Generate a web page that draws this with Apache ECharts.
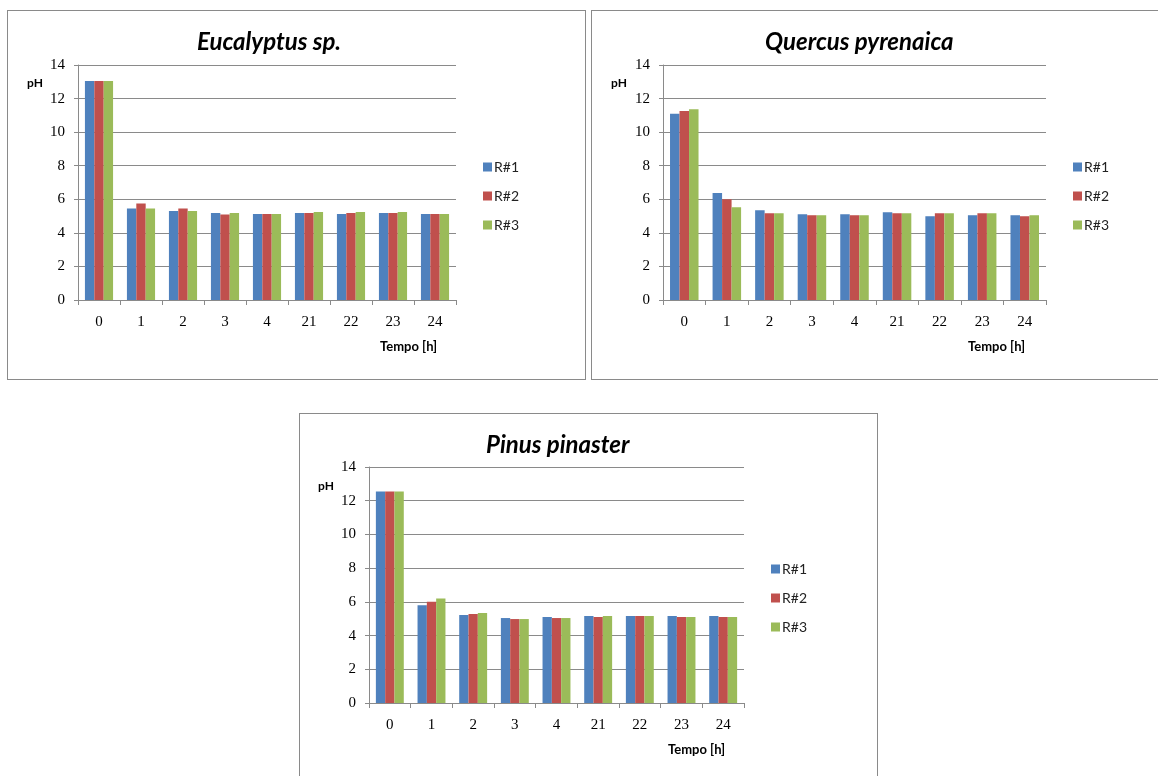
<!DOCTYPE html>
<html>
<head>
<meta charset="utf-8">
<script src="https://cdn.jsdelivr.net/npm/echarts@6/dist/echarts.min.js"></script>
<style>
  html, body { margin: 0; padding: 0; background: #ffffff; }
  body { width: 1158px; height: 776px; position: relative; overflow: hidden; }
  .frame { position: absolute; border: 1px solid #8a8a8a; background: #fff; }
  #c1 { left: 7px; top: 10px; width: 577px; height: 368px; }
  #c2 { left: 591px; top: 10px; width: 566px; height: 368px; }
  #c3 { left: 299px; top: 413px; width: 577px; height: 372px; }
</style>
</head>
<body>
<div id="c1" class="frame"></div>
<div id="c2" class="frame"></div>
<div id="c3" class="frame"></div>
<script>
// ---- data ----
const categories = ['0', '1', '2', '3', '4', '21', '22', '23', '24'];
const seriesNames = ['R#1', 'R#2', 'R#3'];
const yTicks = [0, 2, 4, 6, 8, 10, 12, 14];

const eucalyptusR1 = [13.05, 5.45, 5.3, 5.18, 5.12, 5.18, 5.12, 5.18, 5.12];
const eucalyptusR2 = [13.05, 5.75, 5.45, 5.1, 5.12, 5.18, 5.18, 5.18, 5.12];
const eucalyptusR3 = [13.05, 5.45, 5.3, 5.18, 5.12, 5.24, 5.24, 5.24, 5.12];

const quercusR1 = [11.1, 6.38, 5.35, 5.11, 5.11, 5.23, 4.99, 5.05, 5.05];
const quercusR2 = [11.26, 6.0, 5.17, 5.05, 5.05, 5.17, 5.17, 5.17, 4.99];
const quercusR3 = [11.36, 5.53, 5.17, 5.05, 5.05, 5.17, 5.17, 5.17, 5.05];

const pinusR1 = [12.55, 5.8, 5.22, 5.04, 5.1, 5.16, 5.16, 5.16, 5.16];
const pinusR2 = [12.55, 6.0, 5.28, 4.98, 5.04, 5.1, 5.16, 5.1, 5.1];
const pinusR3 = [12.55, 6.2, 5.34, 4.98, 5.04, 5.16, 5.16, 5.1, 5.1];

const colors = ['#4F81BD', '#C0504D', '#9BBB59'];

function buildOption(cfg) {
  const data = cfg.data;
  return {
    animation: false,
    backgroundColor: '#ffffff',
    color: colors,
    title: {
      text: cfg.title,
      left: cfg.titleLeft,
      top: 14,
      textStyle: {
        fontFamily: 'Lato',
        fontStyle: 'italic',
        fontWeight: 'bold',
        fontSize: 24,
        color: '#000'
      }
    },
    legend: {
      data: seriesNames,
      orient: 'vertical',
      left: cfg.legendLeft,
      top: cfg.legendTop,
      itemWidth: 9,
      itemHeight: 9,
      itemGap: 15,
      icon: 'rect',
      textStyle: { fontFamily: 'Lato', fontSize: 14, color: '#222', padding: [0, 0, 0, -3] }
    },
    grid: {
      left: cfg.grid[0],
      top: cfg.grid[1],
      width: cfg.grid[2],
      height: cfg.grid[3]
    },
    xAxis: {
      type: 'category',
      data: categories,
      axisLine: { lineStyle: { color: '#8a8a8a', width: 1 } },
      axisTick: { show: true, length: 5, alignWithLabel: false, lineStyle: { color: '#8a8a8a' } },
      axisLabel: { fontFamily: 'Liberation Serif', fontSize: 15, color: '#000', margin: 15 },
      splitLine: { show: false }
    },
    yAxis: {
      type: 'value',
      min: yTicks[0],
      max: yTicks[yTicks.length - 1],
      interval: yTicks[1] - yTicks[0],
      axisLine: { show: true, lineStyle: { color: '#8a8a8a', width: 1 } },
      axisTick: { show: true, length: 4, lineStyle: { color: '#8a8a8a' } },
      axisLabel: { fontFamily: 'Liberation Serif', fontSize: 15, color: '#000', margin: 13 },
      splitLine: { show: true, lineStyle: { color: '#8a8a8a', width: 1 } }
    },
    graphic: [
      { type: 'text', left: cfg.phLeft, top: cfg.phTop,
        style: { text: 'pH', font: 'bold 12px Lato', fill: '#000' } },
      { type: 'text', left: cfg.tempoLeft, top: cfg.tempoTop,
        style: { text: 'Tempo [h]', font: 'bold 13px Lato', fill: '#000' } }
    ],
    series: seriesNames.map((n, i) => ({
      name: n,
      type: 'bar',
      data: data[i],
      barGap: '0%',
      barCategoryGap: '33%',
      itemStyle: { color: colors[i] }
    }))
  };
}

const charts = [
  { el: 'c1', title: 'Eucalyptus sp.', data: [eucalyptusR1, eucalyptusR2, eucalyptusR3],
    titleLeft: 184, grid: [70, 54, 378, 235], legendLeft: 470, legendTop: 144,
    phLeft: 19, phTop: 66, tempoLeft: 372, tempoTop: 329 },
  { el: 'c2', title: 'Quercus pyrenaica', data: [quercusR1, quercusR2, quercusR3],
    titleLeft: 168, grid: [71, 54, 383, 235], legendLeft: 476, legendTop: 144,
    phLeft: 19, phTop: 66, tempoLeft: 376, tempoTop: 329 },
  { el: 'c3', title: 'Pinus pinaster', data: [pinusR1, pinusR2, pinusR3],
    titleLeft: 181, grid: [69, 53, 375, 236], legendLeft: 466, legendTop: 143,
    phLeft: 18, phTop: 66, tempoLeft: 368, tempoTop: 329 }
];

charts.forEach(c => {
  const inst = echarts.init(document.getElementById(c.el), null, { renderer: 'canvas' });
  inst.setOption(buildOption(c));
});
</script>
</body>
</html>
